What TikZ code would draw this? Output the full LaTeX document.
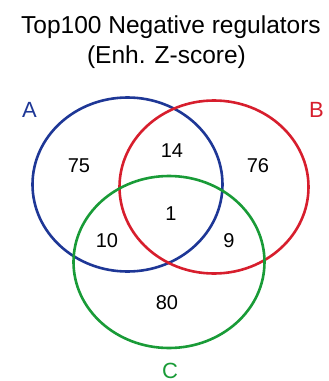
\documentclass[tikz,border=0pt]{standalone}
\usepackage{fontspec}
\setmainfont{Liberation Sans}
\definecolor{setA}{RGB}{30,55,150}
\definecolor{setB}{RGB}{215,30,45}
\definecolor{setC}{RGB}{25,155,55}
\begin{document}
\begin{tikzpicture}[x=1pt,y=-1pt,
  ring/.style={line width=2.6pt},
  count/.style={font=\fontsize{20}{24}\selectfont, inner sep=0pt},
  setname/.style={font=\fontsize{22}{26}\selectfont, inner sep=0pt},
  heading/.style={font=\fontsize{24.5}{30}\selectfont, inner sep=0pt, anchor=base}]
\useasboundingbox (0,0) rectangle (329,381);
% title
\node[heading] (t1) at (171,33) {Top100 Negative regulators};
\node[heading] (t2) at (166.5,63) {(Enh. Z-score)};
% the three sets
\draw[ring, setA] (127.5,184.5) ellipse [x radius=95, y radius=87];
\draw[ring, setB] (214,187) ellipse [x radius=94.5, y radius=86.5];
\draw[ring, setC] (169,262) ellipse [x radius=95.5, y radius=86];
% set names
\node[setname, text=setA] (na) at (29.5,110) {A};
\node[setname, text=setB] (nb) at (316.5,110) {B};
\node[setname, text=setC] (nc) at (170,370.5) {C};
% region counts
\node[count] (r75) at (79,166) {75};
\node[count] (r14) at (172,151) {14};
\node[count] (r76) at (258,166) {76};
\node[count] (r1) at (171,214) {1};
\node[count] (r10) at (107,241) {10};
\node[count] (r9) at (229,241) {9};
\node[count] (r80) at (167,303) {80};
\end{tikzpicture}
\end{document}
